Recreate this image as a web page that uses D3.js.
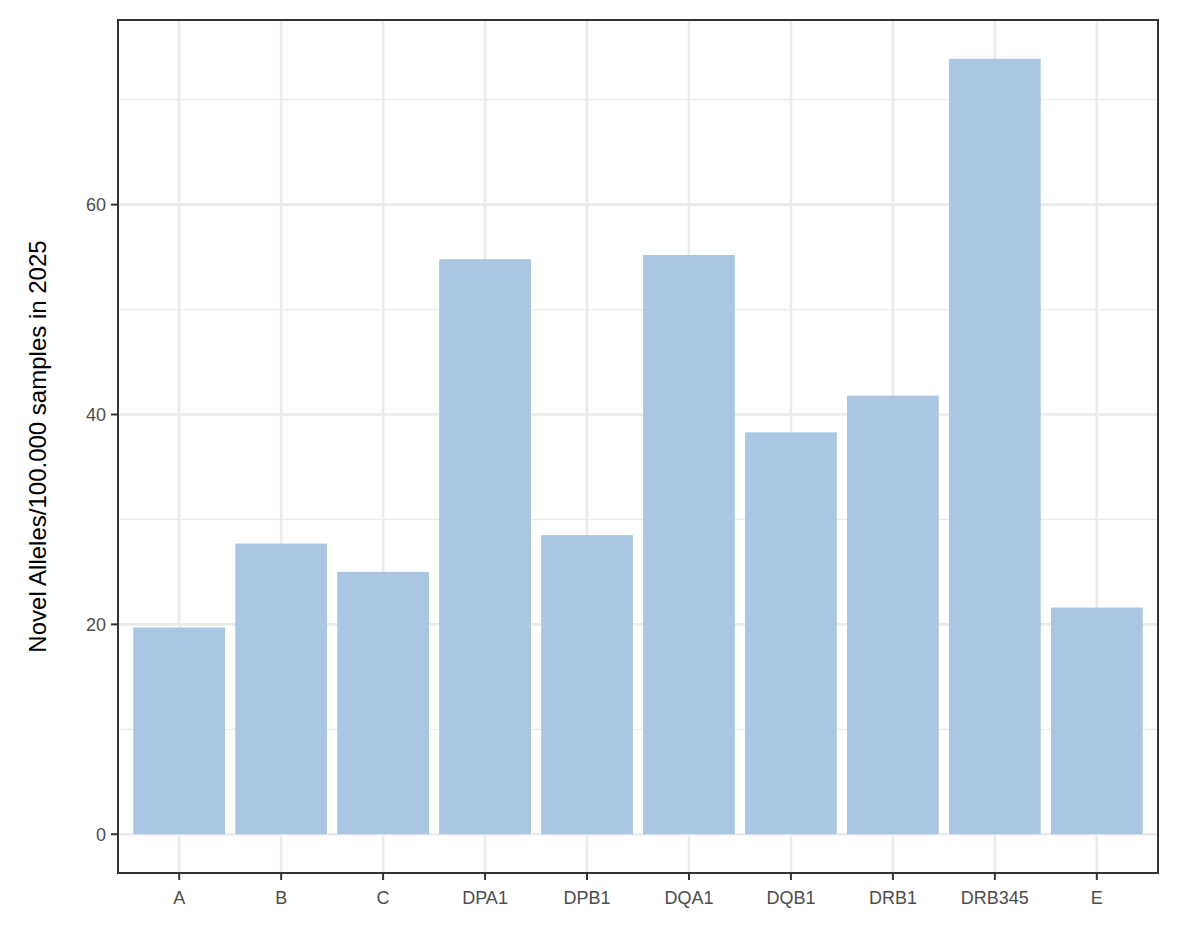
<!DOCTYPE html>
<html>
<head>
<meta charset="utf-8">
<script src="https://cdn.jsdelivr.net/npm/d3@7"></script>
<style>
body { margin: 0; background: #fff; }
text { font-family: "Liberation Sans", Arial, sans-serif; }
</style>
</head>
<body>
<svg id="svg" width="1181" height="944"></svg>
<script>
const width = 1181;
const height = 944;
const barColor = '#a9c7e2';
const gridColor = '#ebebeb';

const paddings = { left: 118, top: 20, right: 23, bottom: 71 };

const categories = ['A', 'B', 'C', 'DPA1', 'DPB1', 'DQA1', 'DQB1', 'DRB1', 'DRB345', 'E'];
const values = [19.7, 27.7, 25.0, 54.8, 28.5, 55.2, 38.3, 41.8, 73.9, 21.6];
const yTicks = [0, 20, 40, 60];
const yMinor = [10, 30, 50, 70];

const svg = d3.select('#svg');
const x0 = paddings.left, x1 = width - paddings.right;
const y0 = height - paddings.bottom, y1 = paddings.top;

const maxV = d3.max(values);
const yScale = d3.scaleLinear()
	.domain([-maxV * 0.05, maxV * 1.05])
	.range([y0, y1]);

const step = (x1 - x0) / (categories.length + 0.2);
const xScale = d3.scaleBand()
	.domain(categories)
	.range([x0 + 0.6 * step - step / 2 + step / 2 - 0.5 * step + 0.1 * step, x1 - 0.1 * step])
	.paddingInner(0.1)
	.paddingOuter(0.05);

// simpler: centre of category i
const cx = (d) => x0 + step * (0.6 + categories.indexOf(d));
const barW = step * 0.9;

// grids
svg.selectAll('.minor').data(yMinor).enter().append('line')
	.attr('x1', x0).attr('x2', x1)
	.attr('y1', d => yScale(d)).attr('y2', d => yScale(d))
	.attr('stroke', gridColor).attr('stroke-width', 1.3);
svg.selectAll('.major').data(yTicks).enter().append('line')
	.attr('x1', x0).attr('x2', x1)
	.attr('y1', d => yScale(d)).attr('y2', d => yScale(d))
	.attr('stroke', gridColor).attr('stroke-width', 2.6);
svg.selectAll('.vgrid').data(categories).enter().append('line')
	.attr('x1', d => cx(d)).attr('x2', d => cx(d))
	.attr('y1', y1).attr('y2', y0)
	.attr('stroke', gridColor).attr('stroke-width', 2.6);

// bars
svg.selectAll('.bar').data(values).enter().append('rect')
	.attr('x', (d, i) => cx(categories[i]) - barW / 2)
	.attr('width', barW)
	.attr('y', d => yScale(d))
	.attr('height', d => yScale(0) - yScale(d))
	.attr('fill', barColor);

// border
svg.append('rect')
	.attr('x', x0).attr('y', y1)
	.attr('width', x1 - x0).attr('height', y0 - y1)
	.attr('fill', 'none').attr('stroke', '#333').attr('stroke-width', 2);

// y axis
const yg = svg.append('g');
yTicks.forEach(t => {
	yg.append('line').attr('x1', x0 - 7).attr('x2', x0)
		.attr('y1', yScale(t)).attr('y2', yScale(t))
		.attr('stroke', '#333').attr('stroke-width', 2);
	yg.append('text').attr('x', x0 - 12).attr('y', yScale(t))
		.attr('dy', '0.35em').attr('text-anchor', 'end')
		.attr('font-size', 18).attr('fill', '#4d4d4d').text(t);
});

// x axis
categories.forEach(c => {
	svg.append('line').attr('x1', cx(c)).attr('x2', cx(c))
		.attr('y1', y0).attr('y2', y0 + 7)
		.attr('stroke', '#333').attr('stroke-width', 2);
	svg.append('text').attr('x', cx(c)).attr('y', y0 + 31)
		.attr('text-anchor', 'middle')
		.attr('font-size', 18).attr('fill', '#4d4d4d').text(c);
});

svg.append('text')
	.attr('transform', `translate(46,${(y0 + y1) / 2}) rotate(-90)`)
	.attr('text-anchor', 'middle')
	.attr('font-size', 24).attr('fill', '#000')
	.text('Novel Alleles/100.000 samples in 2025');
</script>
</body>
</html>
